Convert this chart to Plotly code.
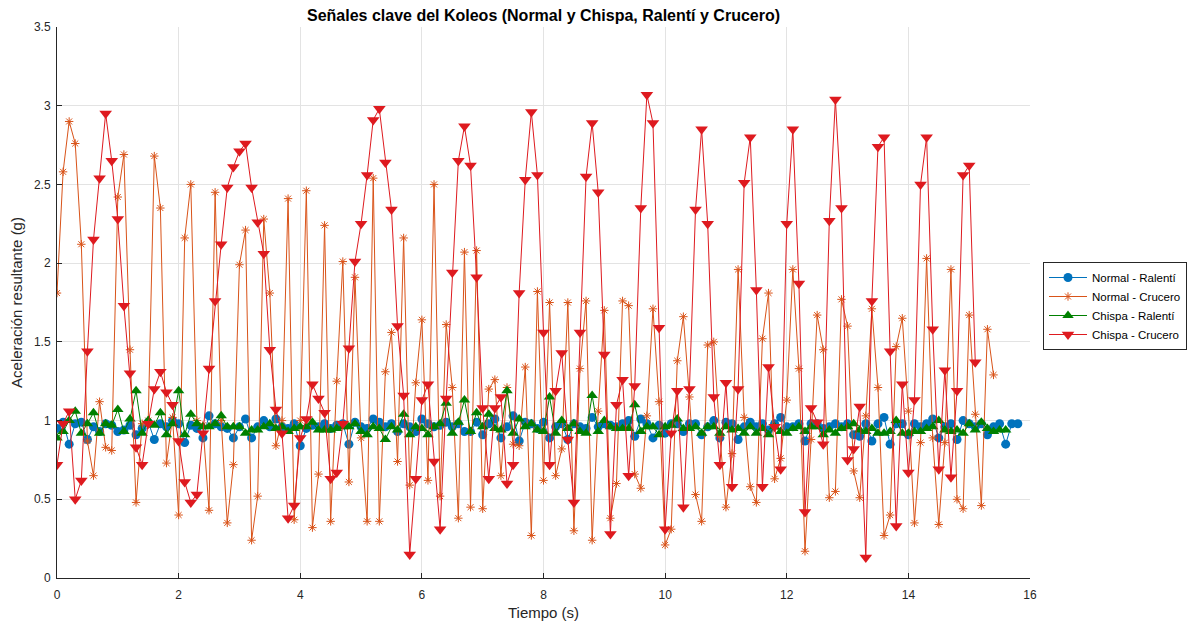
import numpy as np
import plotly.graph_objects as go

# ---- data (sampled every 0.1 s) ----
normal_ralenti = [
    0.95, 0.99, 0.85, 0.98, 0.99, 0.88, 0.96, 0.93, 0.98, 0.97,
    0.93, 0.94, 0.97, 0.91, 0.95, 0.99, 0.88, 0.98, 0.96, 1.00,
    0.98, 0.86, 0.97, 0.95, 0.89, 1.03, 0.98, 0.96, 0.95, 0.89,
    0.96, 1.01, 0.89, 0.96, 1.00, 0.96, 1.01, 0.96, 0.95, 0.98,
    0.84, 0.95, 0.97, 0.96, 0.98, 0.95, 0.97, 0.98, 0.85, 0.99,
    0.96, 0.95, 1.01, 0.99, 0.96, 0.98, 0.93, 0.98, 0.96, 0.93,
    1.01, 0.98, 0.96, 0.97, 0.99, 0.96, 0.98, 0.93, 0.93, 0.99,
    0.91, 0.98, 1.01, 0.89, 0.96, 1.03, 0.87, 0.99, 0.98, 0.95,
    0.99, 0.89, 0.96, 0.98, 0.88, 0.98, 0.96, 0.95, 1.02, 0.96,
    0.98, 0.97, 0.96, 0.98, 1.00, 0.90, 1.01, 0.98, 0.89, 0.97,
    0.92, 0.98, 0.98, 0.93, 0.98, 0.98, 0.91, 0.96, 1.00, 0.89,
    0.99, 0.98, 0.88, 0.96, 0.99, 0.96, 0.98, 0.94, 0.98, 1.02,
    0.96, 0.96, 0.98, 0.87, 0.98, 0.98, 0.95, 0.96, 0.98, 0.96,
    0.98, 0.91, 0.90, 0.98, 0.87, 0.98, 1.02, 0.85, 0.98, 0.98,
    0.91, 0.98, 0.96, 0.98, 1.01, 0.89, 0.96, 0.98, 0.88, 1.00,
    0.98, 0.96, 0.98, 0.91, 0.96, 0.98, 0.85, 0.98, 0.98,
]

normal_crucero = [
    1.81, 2.58, 2.90, 2.76, 2.12, 0.87, 0.65, 1.12, 0.83, 0.81,
    2.42, 2.69, 1.45, 0.48, 0.98, 1.00, 2.68, 2.35, 0.73, 1.02,
    0.40, 2.16, 2.50, 1.00, 0.97, 0.43, 2.45, 1.00, 0.35, 0.72,
    1.99, 2.21, 0.24, 0.52, 2.28, 1.81, 0.84, 1.00, 2.41, 0.37,
    1.00, 2.46, 0.32, 0.66, 2.24, 0.36, 1.25, 2.01, 0.61, 1.91,
    0.89, 0.36, 2.54, 0.36, 1.31, 1.56, 0.74, 2.16, 0.59, 1.24,
    1.64, 0.62, 2.50, 0.52, 1.61, 1.21, 0.38, 2.07, 0.45, 2.08,
    0.44, 1.20, 1.26, 0.65, 1.21, 0.85, 0.84, 1.34, 0.27, 1.82,
    0.62, 1.75, 0.65, 0.82, 1.75, 0.30, 1.33, 1.76, 0.24, 1.06,
    1.70, 0.38, 0.60, 1.76, 1.73, 0.66, 0.57, 1.03, 1.71, 1.12,
    0.21, 0.31, 1.38, 1.66, 1.15, 0.53, 0.36, 1.48, 1.50, 0.90,
    0.45, 0.79, 1.96, 1.02, 0.58, 0.48, 1.52, 1.81, 0.63, 0.76,
    1.13, 1.96, 1.33, 0.17, 0.88, 1.67, 1.45, 0.51, 0.55, 1.77,
    1.60, 0.68, 0.51, 1.03, 1.71, 1.21, 0.27, 0.40, 1.47, 1.65,
    1.06, 0.35, 0.86, 2.03, 0.89, 0.34, 0.86, 1.96, 0.50, 0.44,
    1.67, 1.04, 0.46, 1.58, 1.29,
]

chispa_ralenti = [
    0.89, 0.93, 1.00, 1.06, 0.92, 0.98, 1.05, 0.92, 0.98, 0.97,
    1.07, 0.93, 1.01, 1.19, 0.92, 1.00, 0.97, 1.05, 0.91, 0.98,
    1.19, 0.91, 1.04, 0.98, 0.96, 0.96, 0.98, 1.03, 0.96, 0.96,
    0.96, 0.92, 0.94, 0.94, 0.96, 0.98, 0.95, 0.96, 0.93, 0.95,
    0.96, 0.96, 0.99, 0.94, 0.94, 0.94, 0.95, 0.96, 0.96, 0.98,
    0.93, 0.91, 0.96, 0.95, 0.88, 0.96, 0.94, 1.04, 0.91, 0.96,
    0.95, 0.91, 0.96, 0.98, 1.11, 0.92, 0.99, 1.13, 0.93, 1.05,
    0.96, 1.04, 0.95, 0.94, 1.19, 0.92, 1.01, 0.96, 0.98, 0.94,
    0.93, 1.15, 0.92, 1.00, 0.95, 0.98, 0.93, 0.92, 1.16, 0.93,
    1.00, 0.96, 0.95, 0.95, 0.95, 1.10, 0.93, 0.96, 0.96, 0.91,
    0.96, 0.97, 1.01, 0.95, 0.95, 0.96, 0.92, 0.96, 0.96, 0.92,
    0.96, 0.94, 0.95, 0.92, 0.96, 0.92, 0.95, 0.91, 0.96, 0.93,
    0.92, 0.95, 0.96, 0.93, 0.96, 0.96, 0.91, 0.94, 0.92, 0.95,
    0.96, 0.98, 0.94, 0.93, 0.95, 0.92, 0.92, 0.93, 1.00, 0.92,
    0.92, 0.93, 0.93, 0.95, 0.96, 1.00, 0.94, 0.93, 0.94, 0.92,
    0.98, 0.94, 0.99, 0.95, 0.93, 0.94, 0.94,
]

chispa_crucero = [
    0.72, 0.98, 1.06, 0.50, 0.62, 1.44, 2.15, 2.54, 2.95, 2.65,
    2.28, 1.73, 1.30, 0.83, 0.72, 0.98, 1.20, 1.31, 1.18, 1.10,
    0.87, 0.61, 0.48, 0.53, 0.92, 1.33, 1.76, 2.12, 2.48, 2.61,
    2.71, 2.76, 2.48, 2.26, 2.06, 1.45, 1.07, 0.92, 0.38, 0.46,
    0.89, 1.01, 1.23, 1.14, 1.05, 0.63, 0.67, 0.98, 1.46, 2.01,
    2.25, 2.56, 2.91, 2.98, 2.64, 2.34, 1.60, 1.16, 0.15, 0.63,
    1.13, 1.23, 0.74, 0.31, 1.14, 1.94, 2.65, 2.87, 2.62, 1.91,
    1.08, 0.63, 1.08, 1.15, 0.60, 0.72, 1.81, 2.53, 2.96, 2.56,
    1.56, 0.72, 1.19, 1.43, 0.88, 0.48, 1.56, 2.55, 2.89, 2.45,
    1.42, 0.28, 1.10, 1.26, 0.65, 1.22, 2.35, 3.07, 2.89, 1.59,
    0.31, 0.92, 1.19, 0.45, 1.20, 2.34, 2.85, 2.25, 1.15, 0.72,
    1.24, 0.58, 1.20, 2.51, 2.80, 1.83, 0.58, 1.34, 0.96, 0.69,
    2.25, 2.85, 1.87, 0.42, 1.08, 0.99, 0.85, 2.27, 3.04, 2.35,
    0.75, 0.82, 1.09, 0.13, 1.76, 2.74, 2.80, 1.44, 0.33, 1.23,
    0.67, 1.13, 2.50, 2.80, 1.58, 0.69, 1.32, 0.64, 1.19, 2.56,
    2.62, 1.37,
]

series_names = ["Normal - Ralentí", "Normal - Crucero", "Chispa - Ralentí", "Chispa - Crucero"]
x_ticks = [0, 2, 4, 6, 8, 10, 12, 14, 16]
y_ticks = [0, 0.5, 1, 1.5, 2, 2.5, 3, 3.5]
dt = 0.1


def times(values):
    return np.round(np.arange(len(values)) * dt, 2)


blue = "#0072BD"
orange = "#D95319"
green = "#008000"
red = "#DE1A1F"

fig = go.Figure()
fig.add_trace(go.Scatter(
    x=times(normal_ralenti), y=normal_ralenti, name=series_names[0], mode="lines+markers",
    line=dict(color=blue, width=1),
    marker=dict(symbol="circle", size=9, color=blue, line=dict(width=0)),
))
fig.add_trace(go.Scatter(
    x=times(normal_crucero), y=normal_crucero, name=series_names[1], mode="lines+markers",
    line=dict(color=orange, width=1),
    marker=dict(symbol="asterisk-open", size=7, color=orange, line=dict(color=orange, width=1)),
))
fig.add_trace(go.Scatter(
    x=times(chispa_ralenti), y=chispa_ralenti, name=series_names[2], mode="lines+markers",
    line=dict(color=green, width=1),
    marker=dict(symbol="triangle-up", size=10, color=green, line=dict(width=0)),
))
fig.add_trace(go.Scatter(
    x=times(chispa_crucero), y=chispa_crucero, name=series_names[3], mode="lines+markers",
    line=dict(color=red, width=1),
    marker=dict(symbol="triangle-down", size=11, color=red, line=dict(width=0)),
))

FONT = "Liberation Sans, Arial, sans-serif"
axis_font = dict(family=FONT, size=12, color="#262626")

# page has an 8px body margin; figure sized to fit the 1199x627 window
W, H = 1191, 619
fig.update_layout(
    width=W, height=H,
    margin=dict(l=49, r=169, t=19, b=49, autoexpand=False),
    paper_bgcolor="white", plot_bgcolor="white",
    font=dict(family=FONT, color="#262626"),
    title=dict(
        text="<b>Señales clave del Koleos (Normal y Chispa, Ralentí y Crucero)</b>",
        x=(49 + W - 169) / 2 / W, xanchor="center", y=1 - 7 / H, yanchor="middle",
        font=dict(size=16, color="#000000", family=FONT),
    ),
    xaxis=dict(
        range=[0, 16], tickvals=x_ticks, ticktext=[str(v) for v in x_ticks],
        showgrid=True, gridcolor="#e3e3e3", gridwidth=1,
        showline=True, linecolor="#262626", linewidth=1, mirror=False,
        ticks="inside", ticklen=5, tickcolor="#262626",
        tickfont=axis_font, zeroline=False, ticklabelstandoff=6,
        title=dict(text="Tiempo (s)", font=dict(size=15, color="#262626"), standoff=6),
    ),
    yaxis=dict(
        range=[0, 3.5], tickvals=y_ticks, ticktext=[f"{v:g}" for v in y_ticks],
        showgrid=True, gridcolor="#e3e3e3", gridwidth=1,
        showline=True, linecolor="#262626", linewidth=1, mirror=False,
        ticks="inside", ticklen=5, tickcolor="#262626",
        tickfont=axis_font, zeroline=False, ticklabelstandoff=3,
        title=dict(text="Aceleración resultante (g)", font=dict(size=15, color="#262626"), standoff=7),
    ),
    legend=dict(
        x=(1043 - 57) / 973, xanchor="left", y=(578 - 262) / 551, yanchor="top",
        bgcolor="white", bordercolor="#262626", borderwidth=1,
        font=dict(size=11.5, color="#000000", family=FONT),
        tracegroupgap=0, itemwidth=38,
    ),
    showlegend=True,
)

fig.write_html("out.html")
